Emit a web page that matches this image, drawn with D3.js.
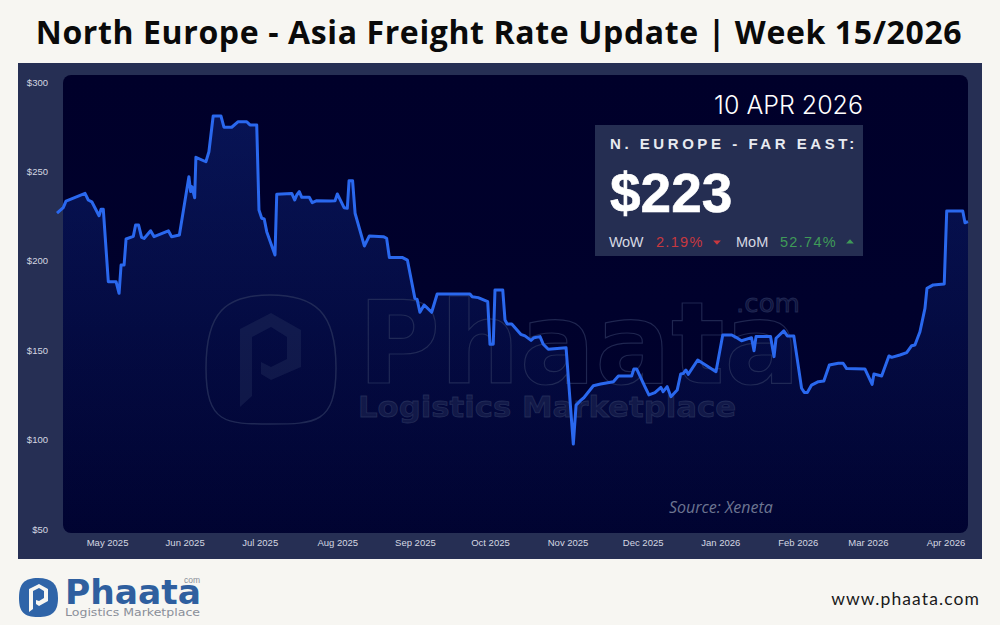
<!DOCTYPE html>
<html>
<head>
<meta charset="utf-8">
<script src="https://cdn.jsdelivr.net/npm/d3@7"></script>
<style>
  html, body { margin: 0; padding: 0; background: #f7f6f2; }
  svg { display: block; }
  text { font-family: "Liberation Sans", Arial, sans-serif; }
</style>
</head>
<body>
<svg id="chart" width="1000" height="625"></svg>
<script>
// days counted from the first point, 11 Apr 2025
const days = [0,2.5,3.6,11.2,12.5,13.9,16.8,17.6,18.5,20.5,23.6,24.8,25.6,26.8,27.6,30.5,31.4,32.6,33.8,34.8,
  37.4,38.8,44.5,45.8,48.9,52.7,53.4,53.9,55,55.5,59.5,60.7,62.4,65.5,66.7,69.8,72.4,75.8,77.1,79.8,
  80.7,81.8,82.8,83.8,87.1,87.8,93.8,95,95.8,96.8,97.8,100.8,102,103.8,109.1,111.1,112,114.7,116,116.7,
  118.1,119.1,122.8,124.8,130.4,131.7,132.8,138.1,140,143,143.9,145,146.7,149.7,151.9,165,165.9,168.3,172.1,173,
  174.3,175,178.1,179,179.9,181.7,185.3,187,189.4,190.6,193,194.3,196.3,203.4,206.3,207.4,209,210.5,214.3,217.2,
  222.3,224.3,229.6,230.5,231.6,234.9,236.5,238.9,241.3,242.2,243.8,245.3,247.8,249.2,250.2,251.3,252.2,256,259.6,263.3,
  266,269.6,271.3,273.5,277.5,278.5,279.3,285.1,286.5,287.3,290.4,291.8,294.4,297.5,298.6,299.8,301.5,304.2,306.4,308.6,
  312.2,314.1,315.5,322.8,325.7,326.4,329.5,332.4,333.5,336.8,339.5,341.5,342.8,344.8,346.8,347.6,350.1,354.5,355.5,361.9,362.8,364];
const rates = [226.6,229.7,233.4,237.7,234,233,225.2,228.8,228.8,188.3,188.3,181.8,197.6,197.6,212.2,213.7,220,220,213.1,212.5,
  216.8,213.5,216.8,213.5,214.4,247,238.7,241.5,235.3,257.9,255.4,261,281,281,274.7,274.7,277.8,277.8,276,276,
  228.4,223.8,223.4,216.3,203.2,237.2,237.7,234,236.8,238.7,235.5,235.5,232.5,233.6,233.4,233.6,237.4,229.7,229.4,244.8,
  244.8,226.6,208.3,213.9,213.5,212.6,201.8,201.8,200.4,179,178.4,171.2,175.3,171.2,181.4,181.4,179.9,179.4,177.1,153.3,
  153.3,183.7,183.7,166.9,164.7,164.7,158.9,158,155.5,157,157.6,153.3,150.5,151.4,97.5,119.3,121.6,123.4,130.1,131.1,
  132.4,135.6,135.6,139.5,139.5,129.6,125,126.3,129.2,126.8,129.6,124,127.7,136.7,137,138.9,136.5,144.5,141.3,138,
  158.5,158.5,157.2,155.3,157,149.7,157.6,157.6,146.4,156.7,160.8,158,158,128.7,126.4,126.4,130.5,132.4,132.8,141.7,
  142.7,142.7,139.7,139.5,130.9,136.7,135.6,146.8,146,147.3,148.6,152.5,152.9,160.3,173.4,184.6,186.5,187,227.9,227.9,221.3,221.9];
const yTicks = [50, 100, 150, 200, 250, 300];

const startDate = new Date(2025, 3, 11);
const endDate = new Date(2026, 3, 10);
const dayMs = 24 * 60 * 60 * 1000;
const points = days.map((d, i) => ({ date: new Date(+startDate + d * dayMs), rate: rates[i] }));

const svg = d3.select("#chart");

svg.append("text")
  .attr("x", 499).attr("y", 44)
  .attr("text-anchor", "middle")
  .style("font-family", "'Open Sans', sans-serif")
  .style("font-weight", 700).style("font-size", "32px").style("letter-spacing", "0.62px")
  .attr("fill", "#0a0a0a")
  .text("North Europe - Asia Freight Rate Update | Week 15/2026");

// panel + plot background
svg.append("rect").attr("x", 18).attr("y", 63).attr("width", 964).attr("height", 496).attr("fill", "#262f54");
const defs = svg.append("defs");
const plotBg = defs.append("linearGradient").attr("id", "plotBg").attr("x1", 0).attr("x2", 0).attr("y1", 0).attr("y2", 1);
plotBg.append("stop").attr("offset", 0).attr("stop-color", "#00002a");
plotBg.append("stop").attr("offset", 1).attr("stop-color", "#00022e");
svg.append("rect").attr("x", 63).attr("y", 75).attr("width", 905).attr("height", 458).attr("rx", 8).attr("fill", "url(#plotBg)");

const x = d3.scaleTime().domain([startDate, endDate]).range([57, 968]);
const y = d3.scaleLinear().domain([50, 300]).range([529, 82]);

const areaFill = defs.append("linearGradient").attr("id", "areaFill")
  .attr("gradientUnits", "userSpaceOnUse").attr("x1", 0).attr("x2", 0).attr("y1", 115).attr("y2", 533);
areaFill.append("stop").attr("offset", 0).attr("stop-color", "#1c48c8").attr("stop-opacity", 0.27);
areaFill.append("stop").attr("offset", 1).attr("stop-color", "#1c48c8").attr("stop-opacity", 0.02);

const clip = defs.append("clipPath").attr("id", "areaClip");
clip.append("rect").attr("x", 63).attr("y", 75).attr("width", 905).attr("height", 458).attr("rx", 8);

svg.append("path").datum(points)
  .attr("clip-path", "url(#areaClip)")
  .attr("fill", "url(#areaFill)")
  .attr("d", d3.area().x(d => x(d.date)).y0(533).y1(d => y(d.rate)));

// watermark
const wm = svg.append("g").attr("fill", "none").attr("stroke", "#2c3660").attr("stroke-opacity", 0.7);
wm.append("path").attr("stroke-width", 1.5)
  .attr("d", "M270 295 C315 295 336 312 336 368 C336 424 315 424 270 424 C226 424 206 424 206 368 C206 312 226 295 270 295 Z");
wm.append("path").attr("fill", "#2c3660").attr("fill-opacity", 0.35).attr("stroke", "none").attr("fill-rule", "evenodd")
  .attr("d", "M240 329 L271 313 L301 330 L301 367 L271 380 L261 374 L261 362 L271 367 L287 359 L287 337 L271 327 L252 337 L252 396 L240 407 Z");
wm.append("text").attr("x", 358).attr("y", 383).attr("stroke-width", 1.2)
  .attr("textLength", 442).attr("lengthAdjust", "spacingAndGlyphs")
  .style("font-family", "'DejaVu Sans', sans-serif").style("font-weight", 700).style("font-size", "114px")
  .text("Phaata");
wm.append("text").attr("x", 736).attr("y", 312).attr("fill", "#2c3660").attr("fill-opacity", 0.4).attr("stroke-width", 0.8)
  .attr("textLength", 64).attr("lengthAdjust", "spacingAndGlyphs")
  .style("font-family", "'DejaVu Sans', sans-serif").style("font-size", "24px")
  .text(".com");
wm.append("text").attr("x", 358).attr("y", 417).attr("fill", "#2c3660").attr("fill-opacity", 0.4).attr("stroke-width", 0.8)
  .attr("textLength", 378).attr("lengthAdjust", "spacingAndGlyphs")
  .style("font-family", "'DejaVu Sans', sans-serif").style("font-weight", 700).style("font-size", "28px")
  .text("Logistics  Marketplace");

svg.append("path").datum(points)
  .attr("fill", "none")
  .attr("stroke", "#2a68ee")
  .attr("stroke-width", 3)
  .attr("stroke-linejoin", "round")
  .attr("d", d3.line().x(d => x(d.date)).y(d => y(d.rate)));

// axes
const yAxis = svg.append("g").attr("transform", "translate(53,0)")
  .call(d3.axisLeft(y).tickValues(yTicks).tickSize(0).tickPadding(5).tickFormat(d => "$" + d));
const xAxis = svg.append("g").attr("transform", "translate(0,533)")
  .call(d3.axisBottom(x).ticks(d3.timeMonth.every(1)).tickSize(0).tickPadding(6).tickFormat(d3.timeFormat("%b %Y")));
[yAxis, xAxis].forEach(a => {
  a.select(".domain").remove();
  a.selectAll("text").attr("fill", "#d4d7e2").style("font-family", "'Liberation Sans', sans-serif").style("font-size", "9.5px");
});

// info box
svg.append("text").attr("x", 863).attr("y", 114).attr("text-anchor", "end")
  .attr("fill", "#ffffff").style("font-family", "Inter, sans-serif").style("font-weight", 300).style("font-size", "25px")
  .text("10 APR 2026");
svg.append("rect").attr("x", 595).attr("y", 125).attr("width", 268).attr("height", 131).attr("fill", "#252e52");
svg.append("text").attr("x", 610).attr("y", 149).attr("fill", "#e8eaf0")
  .style("font-weight", 700).style("font-size", "15px").style("letter-spacing", "3.55px")
  .text("N. EUROPE - FAR EAST:");
svg.append("text").attr("x", 610).attr("y", 212).attr("fill", "#ffffff").attr("stroke", "#ffffff").attr("stroke-width", 0.6)
  .style("font-weight", 700).style("font-size", "55px")
  .text("$223");
const stat = (xp, txt, col, sp) => svg.append("text").attr("x", xp).attr("y", 247).attr("fill", col)
  .style("font-size", "14.5px").style("letter-spacing", sp).text(txt);
stat(609, "WoW", "#d5d8e2", "-0.4px");
stat(656, "2.19%", "#c8383f", "1.3px");
stat(736, "MoM", "#d5d8e2", "0");
stat(780, "52.74%", "#3f9a58", "1.3px");
svg.append("path").attr("d", d3.symbol(d3.symbolTriangle, 26)).attr("fill", "#c8383f").attr("transform", "translate(717,242) scale(1,0.62) rotate(180)");
svg.append("path").attr("d", d3.symbol(d3.symbolTriangle, 26)).attr("fill", "#3f9a58").attr("transform", "translate(850,242) scale(1,0.62)");

svg.append("text").attr("x", 669).attr("y", 513).attr("fill", "#6d7591")
  .style("font-family", "'Open Sans', sans-serif").style("font-style", "italic").style("font-size", "16px")
  .text("Source: Xeneta");

// logo, bottom left
const logo = svg.append("g");
logo.append("path").attr("fill", "#2f64a8")
  .attr("d", "M38 578 C52 578 58 584 58 598 C58 612 52 617 38 617 C24 617 19 612 19 598 C19 584 24 578 38 578 Z");
logo.append("path").attr("fill", "#f7f6f2").attr("fill-rule", "evenodd")
  .attr("d", "M29 589 L39 584 L48 589 L48 601 L39 606 L36 604 L36 600 L39 601 L44 598 L44 591 L39 588 L33 591 L33 609 L29 612 Z");
logo.append("text").attr("x", 65).attr("y", 604).attr("fill", "#2f5f9f")
  .attr("textLength", 136).attr("lengthAdjust", "spacingAndGlyphs")
  .style("font-family", "'DejaVu Sans', sans-serif").style("font-weight", 700).style("font-size", "34px")
  .text("Phaata");
logo.append("text").attr("x", 200).attr("y", 583).attr("text-anchor", "end").attr("fill", "#8a8f99")
  .style("font-size", "8.5px").text("com");
logo.append("text").attr("x", 65).attr("y", 616).attr("fill", "#8a8f99")
  .attr("textLength", 135).attr("lengthAdjust", "spacingAndGlyphs")
  .style("font-family", "'DejaVu Sans', sans-serif").style("font-size", "10px")
  .text("Logistics  Marketplace");

svg.append("text").attr("x", 980).attr("y", 605).attr("text-anchor", "end").attr("fill", "#1a1a1a")
  .style("font-family", "Lato, sans-serif").style("font-size", "17.5px").style("letter-spacing", "1.1px")
  .text("www.phaata.com");
</script>
</body>
</html>
